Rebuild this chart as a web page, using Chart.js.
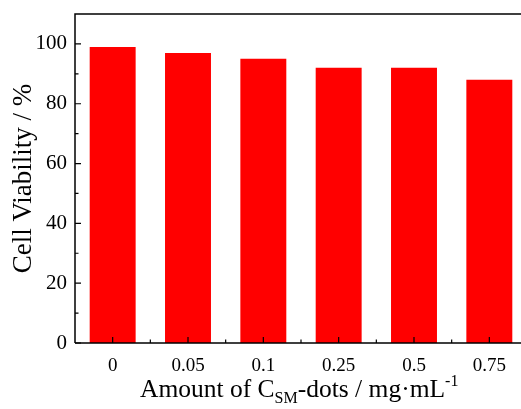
<!DOCTYPE html>
<html>
<head>
<meta charset="utf-8">
<script src="https://cdn.jsdelivr.net/npm/chart.js@4/dist/chart.umd.min.js"></script>
<style>
  html, body { margin: 0; padding: 0; background: #fff; overflow: hidden; width: 521px; height: 409px; }
  #wrap { position: relative; width: 540px; height: 409px; }
  #xtitle { position: absolute; left: 140px; top: 374px; font-family: "Liberation Serif", "Times New Roman", serif; font-size: 25.5px; color: #000; white-space: nowrap; line-height: 30px; }
  #xtitle sub { font-size: 16px; vertical-align: -6px; line-height: 0; }
  #xtitle sup { font-size: 16px; vertical-align: 11px; line-height: 0; }
</style>
</head>
<body>
<div id="wrap">
  <canvas id="c" width="540" height="409"></canvas>
  <div id="xtitle">Amount of C<sub>SM</sub>-dots / mg·mL<sup>-1</sup></div>
</div>
<script>
const categories = ["0", "0.05", "0.1", "0.25", "0.5", "0.75"];
const viability = [99, 97, 95, 92, 92, 88];
const yTicks = [0, 20, 40, 60, 80, 100];
const yMinorTicks = [10, 30, 50, 70, 90];
const yTitle = "Cell Viability / %";

const serif = "'Liberation Serif', 'Times New Roman', serif";

const frameTicks = {
  id: 'frameTicks',
  afterDraw(chart) {
    const ctx = chart.ctx;
    const a = chart.chartArea;
    const x = chart.scales.x, y = chart.scales.y;
    ctx.save();
    ctx.strokeStyle = '#000';
    ctx.lineWidth = 1.5;
    ctx.beginPath();
    ctx.moveTo(a.left, a.bottom); ctx.lineTo(a.right, a.bottom);
    ctx.moveTo(a.left, a.bottom); ctx.lineTo(a.left, a.top);
    ctx.lineTo(a.right, a.top); ctx.lineTo(a.right, a.bottom);
    ctx.stroke();
    ctx.lineWidth = 1.2;
    ctx.beginPath();
    yTicks.forEach(v => { const p = y.getPixelForValue(v); ctx.moveTo(a.left, p); ctx.lineTo(a.left + 6, p); });
    yMinorTicks.forEach(v => { const p = y.getPixelForValue(v); ctx.moveTo(a.left, p); ctx.lineTo(a.left + 3.5, p); });
    categories.forEach((c, i) => {
      const p = x.getPixelForValue(i);
      ctx.moveTo(p, a.bottom); ctx.lineTo(p, a.bottom - 6);
      if (i < categories.length - 1) {
        const m = (p + x.getPixelForValue(i + 1)) / 2;
        ctx.moveTo(m, a.bottom); ctx.lineTo(m, a.bottom - 3.5);
      }
    });
    ctx.stroke();
    ctx.restore();
  }
};

new Chart(document.getElementById('c'), {
  type: 'bar',
  data: {
    labels: categories,
    datasets: [{
      data: viability,
      backgroundColor: '#ff0000',
      borderWidth: 0,
      barPercentage: 0.61,
      categoryPercentage: 1.0
    }]
  },
  options: {
    responsive: false,
    animation: false,
    devicePixelRatio: 1,
    layout: { padding: { top: 14, right: 13, left: 0, bottom: 0 } },
    plugins: { legend: { display: false }, tooltip: { enabled: false } },
    scales: {
      x: {
        grid: { display: false, drawTicks: false },
        border: { display: false },
        ticks: { color: '#000', font: { family: serif, size: 19 }, padding: 12, maxRotation: 0 },
        afterFit(s) { s.height = 66; s.paddingLeft = 0; s.paddingRight = 0; }
      },
      y: {
        min: 0, max: 110,
        afterBuildTicks(s) { s.ticks = yTicks.map(v => ({ value: v })); },
        grid: { display: false, drawTicks: false },
        border: { display: false },
        ticks: { color: '#000', font: { family: serif, size: 21 }, padding: 8 },
        title: { display: true, text: yTitle, color: '#000', font: { family: serif, size: 27 }, padding: { top: 8, bottom: 0 } },
        afterFit(s) { s.width = 75; s.paddingTop = 0; s.paddingBottom = 0; }
      }
    }
  },
  plugins: [frameTicks]
});
</script>
</body>
</html>
